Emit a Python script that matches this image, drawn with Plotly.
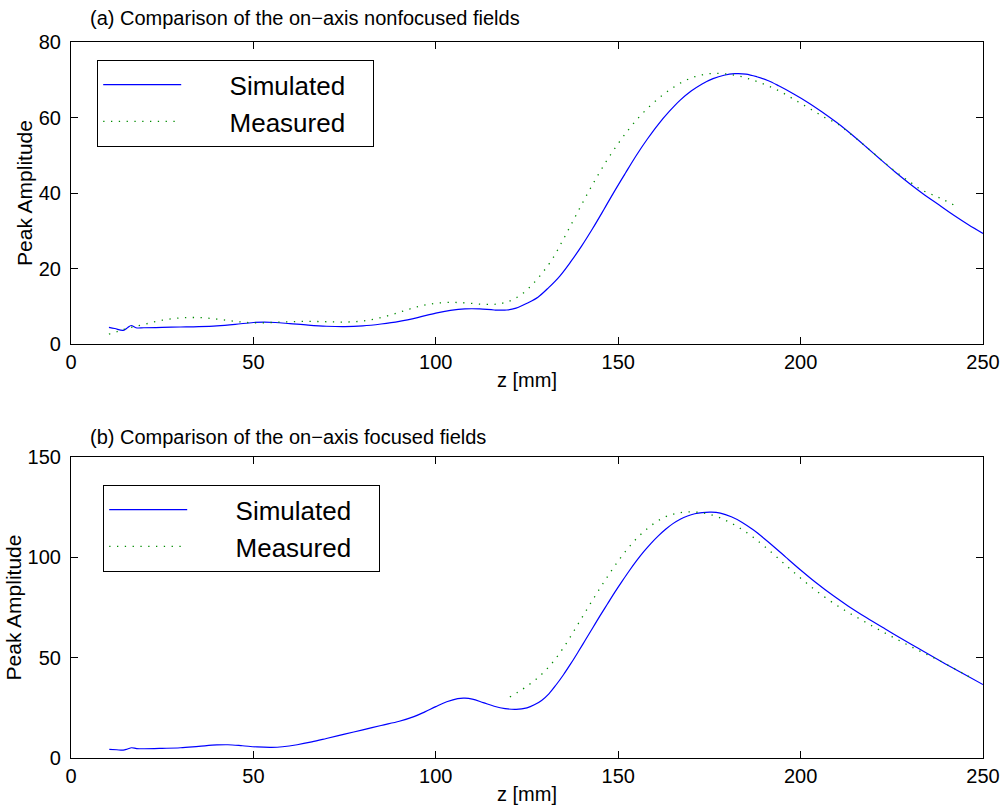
import plotly.graph_objects as go

# ---------------- data ----------------
# Panel (a): on-axis nonfocused fields
z_sim_a = [10.4, 12, 14.3, 15.5, 16.5, 17.8, 20, 25, 30, 35, 40, 45, 50, 53, 56, 60, 65, 70, 75,
           80, 85, 90, 95, 100, 104, 108, 112, 116, 119.5, 122, 125, 128, 131, 134, 137, 140, 143,
           146, 149, 152, 155, 158, 161, 164, 167, 170, 173, 176, 179, 182, 185, 188, 191, 194,
           198, 202, 206, 210, 214, 218, 222, 226, 230, 234, 238, 242, 246, 250]
amp_sim_a = [4.4, 4.1, 3.6, 4.3, 4.9, 4.3, 4.3, 4.4, 4.5, 4.6, 4.8, 5.2, 5.7, 5.8, 5.7, 5.4, 5.0,
             4.7, 4.6, 4.8, 5.3, 6.0, 7.0, 8.2, 8.9, 9.3, 9.3, 9.0, 9.0, 9.5, 10.8, 12.4, 15.0,
             18.0, 21.8, 26.0, 30.6, 35.5, 40.5, 45.3, 50.0, 54.3, 58.2, 61.6, 64.6, 67.0, 68.9,
             70.3, 71.2, 71.6, 71.5, 70.8, 69.8, 68.4, 66.3, 64.0, 61.4, 58.6, 55.5, 52.2, 48.8,
             45.5, 42.4, 39.5, 36.8, 34.1, 31.6, 29.3]

z_meas_a = [10.4, 13, 16, 20, 25, 30, 35, 40, 45, 50, 55, 60, 65, 70, 75, 80, 85, 90, 94, 98, 103,
            108, 113, 117, 120, 123, 126, 129, 132, 135, 138, 141, 144, 147, 150, 153, 156, 159,
            162, 165, 168, 171, 174, 177, 180, 183, 186, 189, 192, 195, 198, 201, 204, 207, 210,
            214, 218, 222, 226, 230, 233, 236, 239, 242.8]
amp_meas_a = [2.6, 3.4, 4.3, 5.2, 6.3, 6.9, 7.0, 6.6, 6.0, 5.6, 5.7, 5.9, 6.0, 5.9, 5.8, 6.1, 7.0,
              8.4, 9.6, 10.5, 11.0, 10.9, 10.5, 10.6, 11.3, 12.8, 15.3, 18.6, 22.6, 27.8, 33.3,
              38.8, 44.0, 48.8, 53.1, 57.0, 60.4, 63.3, 65.8, 67.9, 69.6, 70.8, 71.5, 71.7, 71.5,
              71.0, 70.2, 69.2, 68.0, 66.6, 64.9, 63.2, 61.5, 59.8, 58.4, 55.4, 52.2, 48.9, 45.7,
              42.9, 40.9, 39.6, 38.3, 36.4]

# Panel (b): on-axis focused fields
z_sim_b = [10.5, 12.5, 14.3, 15.5, 16.6, 18, 20, 25, 30, 35, 40, 43, 47, 51, 55, 58, 62, 66, 70,
           75, 80, 85, 90, 94, 97, 100, 103, 106, 108, 110, 113, 116, 119, 122, 125, 127, 129, 131,
           133, 135, 137, 139, 141, 143, 145, 147, 149, 151, 153, 155, 157, 159, 161, 163, 165,
           167, 169, 171, 173, 175.5, 178, 181, 184, 187, 190, 193, 196, 200, 204, 209, 213,
           218, 223, 227, 232, 237, 241, 245, 250]
amp_sim_b = [4.3, 4.1, 3.9, 4.5, 5.1, 4.7, 4.6, 4.8, 5.1, 5.8, 6.5, 6.6, 6.1, 5.5, 5.3, 5.6, 6.6,
             8.0, 9.7, 11.9, 14.0, 16.2, 18.3, 20.6, 23.0, 25.6, 28.0, 29.6, 29.8, 29.3, 27.6,
             25.8, 24.6, 24.2, 25.0, 26.5, 28.7, 32.0, 36.5, 41.5, 47.0, 52.8, 58.8, 64.8, 70.8,
             76.6, 82.4, 87.9, 93.2, 98.2, 102.8, 107.0, 110.7, 114.0, 116.8, 119.0, 120.6, 121.7,
             122.3, 122.5, 122.0, 120.2, 117.4, 113.7, 109.4, 104.8, 100.0, 93.7, 87.7, 80.8,
             75.8, 70.0, 64.5, 60.2, 54.9, 49.7, 45.6, 41.6, 36.6]

z_meas_b = [120.3, 122.5, 125, 127.5, 130, 132.5, 135, 137.5, 140, 142.5, 145, 147.5, 150, 152.5,
            155, 157.5, 160, 162.5, 165, 167.5, 170, 172.5, 175, 178, 181, 184, 187, 190, 193,
            196, 199, 202, 205, 209, 213, 217, 221, 225, 229, 233, 237, 241, 245, 247.3]
amp_meas_b = [30.4, 32.8, 35.8, 39.3, 43.5, 48.7, 55.0, 62.2, 69.8, 77.3, 84.6, 91.6, 98.2, 104.1,
              109.3, 113.6, 117.1, 119.8, 121.5, 122.4, 122.7, 122.3, 121.5, 119.6, 117.0, 113.8,
              110.0, 105.6, 100.9, 96.0, 91.2, 86.6, 82.3, 77.2, 72.6, 68.5, 64.4, 60.5, 56.7,
              53.0, 49.5, 45.7, 41.7, 39.4]

x_ticks = [0, 50, 100, 150, 200, 250]
y_ticks_a = [0, 20, 40, 60, 80]
y_ticks_b = [0, 50, 100, 150]

title_a = "(a) Comparison of the on\u2212axis nonfocused fields"
title_b = "(b) Comparison of the on\u2212axis focused fields"
x_label = "z [mm]"
y_label = "Peak Amplitude"
names = ["Simulated", "Measured"]

# ---------------- styling ----------------
FONT = "Liberation Sans, Arial, Helvetica, sans-serif"
BLUE = "rgb(0,0,255)"
GREEN = "rgb(0,140,0)"
SIM_LINE = dict(color=BLUE, width=1.2, shape="spline", smoothing=1.0)
MEAS_LINE = dict(color=GREEN, width=1.3, dash="1.3px,6.5px", shape="spline", smoothing=1.0)
PAD_L = "\u00a0" * 6   # visual gap between legend sample and label (as in the original)
PAD_R = "\u00a0" * 3


def legend_label(s):
    return PAD_L + s + PAD_R


fig = go.Figure()
fig.add_trace(go.Scatter(x=z_sim_a, y=amp_sim_a, mode="lines", name=legend_label(names[0]),
                         line=SIM_LINE, xaxis="x", yaxis="y", legend="legend"))
fig.add_trace(go.Scatter(x=z_meas_a, y=amp_meas_a, mode="lines", name=legend_label(names[1]),
                         line=MEAS_LINE, xaxis="x", yaxis="y", legend="legend"))
fig.add_trace(go.Scatter(x=z_sim_b, y=amp_sim_b, mode="lines", name=legend_label(names[0]),
                         line=SIM_LINE, xaxis="x2", yaxis="y2", legend="legend2"))
fig.add_trace(go.Scatter(x=z_meas_b, y=amp_meas_b, mode="lines", name=legend_label(names[1]),
                         line=MEAS_LINE, xaxis="x2", yaxis="y2", legend="legend2"))

W, H = 1001, 812
ML, MR, MT, MB = 71, 18, 42, 54
PH = H - MT - MB


def py(y_px):
    return (H - MB - y_px) / PH


def px(x_px):
    return (x_px - ML) / (W - ML - MR)


axis_common = dict(showline=True, linecolor="black", linewidth=1.2, mirror="ticks",
                   ticks="inside", ticklen=7, tickwidth=1, tickcolor="black",
                   showgrid=False, zeroline=False, automargin=False,
                   tickfont=dict(family=FONT, size=20, color="black"))
xtitle = dict(text=x_label, font=dict(family=FONT, size=20, color="black"), standoff=0)
ytitle = dict(text=y_label, font=dict(family=FONT, size=21, color="black"), standoff=0)
legend_common = dict(xanchor="left", yanchor="top", bordercolor="black", borderwidth=1.2,
                     bgcolor="white", font=dict(family=FONT, size=26, color="black"),
                     itemwidth=78, tracegroupgap=0)

fig.update_layout(
    width=W, height=H,
    margin=dict(l=ML, r=MR, t=MT, b=MB),
    paper_bgcolor="white", plot_bgcolor="white",
    font=dict(family=FONT, color="black"),
    showlegend=True,
    xaxis=dict(domain=[0, 1], anchor="y", range=[0, 250], tickvals=x_ticks, title=xtitle,
               ticklabelstandoff=0, **axis_common),
    yaxis=dict(domain=[py(344), 1], anchor="x", range=[0, 80], tickvals=y_ticks_a, title=ytitle,
               ticklabelstandoff=5, **axis_common),
    xaxis2=dict(domain=[0, 1], anchor="y2", range=[0, 250], tickvals=x_ticks, title=xtitle,
                ticklabelstandoff=0, **axis_common),
    yaxis2=dict(domain=[0, py(457)], anchor="x2", range=[0, 150], tickvals=y_ticks_b,
                title=ytitle, ticklabelstandoff=5, **axis_common),
    legend=dict(x=px(97), y=py(60), **legend_common),
    legend2=dict(x=px(103), y=py(485), **legend_common),
    annotations=[
        dict(text=title_a, xref="paper", yref="paper", x=px(88), y=py(18),
             xanchor="left", yanchor="middle", showarrow=False,
             font=dict(family=FONT, size=20, color="black")),
        dict(text=title_b, xref="paper", yref="paper", x=px(88), y=py(437),
             xanchor="left", yanchor="middle", showarrow=False,
             font=dict(family=FONT, size=20, color="black")),
    ],
)

fig.write_html("out.html")
